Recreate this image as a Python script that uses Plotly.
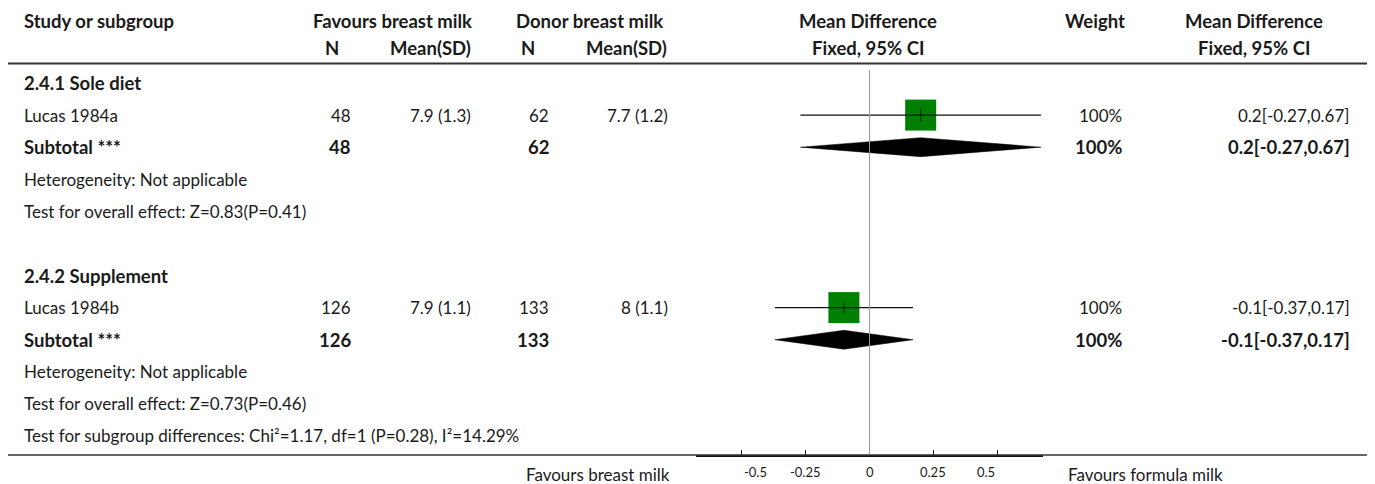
import plotly.graph_objects as go

# ---------------- data ----------------
group_titles = ["2.4.1 Sole diet", "2.4.2 Supplement"]
studies = ["Lucas 1984a", "Lucas 1984b"]
exp_n = [48, 126]
exp_mean_sd = ["7.9 (1.3)", "7.9 (1.1)"]
ctl_n = [62, 133]
ctl_mean_sd = ["7.7 (1.2)", "8 (1.1)"]
md = [0.2, -0.1]
ci_lo = [-0.27, -0.37]
ci_hi = [0.67, 0.17]
weights = ["100%", "100%"]
sub_exp_n = [48, 126]
sub_ctl_n = [62, 133]
sub_md = [0.2, -0.1]
sub_lo = [-0.27, -0.37]
sub_hi = [0.67, 0.17]
sub_weights = ["100%", "100%"]
heterogeneity = ["Heterogeneity: Not applicable", "Heterogeneity: Not applicable"]
overall = ["Test for overall effect: Z=0.83(P=0.41)", "Test for overall effect: Z=0.73(P=0.46)"]
subgroup_test = "Test for subgroup differences: Chi²=1.17, df=1 (P=0.28), I²=14.29%"
tick_vals = [-0.5, -0.25, 0, 0.25, 0.5]
tick_text = ["-0.5", "-0.25", "0", "0.25", "0.5"]
left_label = "Favours breast milk"
right_label = "Favours formula milk"

# ---------------- layout helpers ----------------
OFF = 8  # default page body margin
W, H = 1375 - OFF, 484 - OFF
FONT = "Source Sans Pro, Lato, Roboto, sans-serif"
TXT = "#1a1a1a"
FS = 17
FSB = 18.5
ROW0_PX = 83.0 - OFF
ROW_PX = 32.09
AXIS_PX = 455.0 - OFF


def px(x):
    return (x - OFF) / W


def ppy(y):
    return 1 - (y - OFF) / H


annotations = []


def add_text(text, x, row=None, anchor="left", bold=False, ypx=None, size=None):
    t = "<b>%s</b>" % text if bold else text
    if size is None:
        size = FSB if bold else FS
    a = dict(text=t, x=px(x), xref="paper", xanchor=anchor, showarrow=False,
             font=dict(family=FONT, size=size, color=TXT), yanchor="middle")
    if ypx is not None:
        a.update(y=ppy(ypx), yref="paper")
    else:
        a.update(y=row, yref="y")
    annotations.append(a)


# header
for txt, x, anc in [("Study or subgroup", 22, "left"), ("Favours breast milk", 392, "center"),
                    ("Donor breast milk", 589, "center"), ("Mean Difference", 868, "center"),
                    ("Weight", 1095, "center"), ("Mean Difference", 1254, "center")]:
    add_text(txt, x, anchor=anc, bold=True, ypx=21)
for txt, x, anc in [("N", 332, "center"), ("Mean(SD)", 430, "center"), ("N", 528, "center"),
                    ("Mean(SD)", 626, "center"), ("Fixed, 95% CI", 868, "center"),
                    ("Fixed, 95% CI", 1254, "center")]:
    add_text(txt, x, anchor=anc, bold=True, ypx=48)

fig = go.Figure()

for g in range(2):
    base = g * 6
    r_title, r_study, r_sub, r_het, r_ov = base, base + 1, base + 2, base + 3, base + 4
    add_text(group_titles[g], 22, r_title, bold=True)
    add_text(studies[g], 22, r_study)
    add_text(str(exp_n[g]), 353, r_study, "right")
    add_text(exp_mean_sd[g], 473, r_study, "right")
    add_text(str(ctl_n[g]), 551, r_study, "right")
    add_text(ctl_mean_sd[g], 670, r_study, "right")
    add_text(weights[g], 1124, r_study, "right")
    add_text("%g[%g,%g]" % (md[g], ci_lo[g], ci_hi[g]), 1352, r_study, "right")

    add_text("Subtotal ***", 22, r_sub, bold=True)
    add_text(str(sub_exp_n[g]), 353, r_sub, "right", bold=True)
    add_text(str(sub_ctl_n[g]), 551, r_sub, "right", bold=True)
    add_text(sub_weights[g], 1124, r_sub, "right", bold=True)
    add_text("%g[%g,%g]" % (sub_md[g], sub_lo[g], sub_hi[g]), 1352, r_sub, "right", bold=True)

    add_text(heterogeneity[g], 22, r_het)
    add_text(overall[g], 22, r_ov)

    # study square
    fig.add_trace(go.Scatter(x=[md[g]], y=[r_study], mode="markers",
                             marker=dict(symbol="square", size=31, color="#008000",
                                         line=dict(width=0)),
                             hoverinfo="skip", showlegend=False))
    # CI line
    fig.add_trace(go.Scatter(x=[ci_lo[g], ci_hi[g]], y=[r_study, r_study], mode="lines",
                             line=dict(color="#111111", width=1.2),
                             hoverinfo="skip", showlegend=False))
    # centre tick
    fig.add_trace(go.Scatter(x=[md[g]], y=[r_study], mode="markers",
                             marker=dict(symbol="line-ns", size=9,
                                         line=dict(color="#111111", width=1)),
                             hoverinfo="skip", showlegend=False))
    # diamond
    h = 9.5 / ROW_PX
    fig.add_trace(go.Scatter(x=[sub_lo[g], sub_md[g], sub_hi[g], sub_md[g], sub_lo[g]],
                             y=[r_sub, r_sub - h, r_sub, r_sub + h, r_sub],
                             mode="lines", fill="toself", fillcolor="#000000",
                             line=dict(color="#000000", width=0.5),
                             hoverinfo="skip", showlegend=False))

add_text(subgroup_test, 22, 11)
add_text(left_label, 672, anchor="right", ypx=474)
add_text(right_label, 1066, anchor="left", ypx=474)

# tick labels placed on the x axis scale (outer ones pulled inward, as in the source)
for i, (v, t) in enumerate(zip(tick_vals, tick_text)):
    anc = "left" if i == 0 else ("right" if i == len(tick_vals) - 1 else "center")
    annotations.append(dict(text=t, x=v, xref="x", xanchor=anc, y=ppy(471.5), yref="paper",
                            yanchor="middle", showarrow=False,
                            font=dict(family=FONT, size=13, color=TXT)))

# y range: rows -> pixels (plot area spans page px OFF..AXIS)
y_top = -ROW0_PX / ROW_PX
y_bot = (AXIS_PX - ROW0_PX) / ROW_PX

shapes = [
    dict(type="line", xref="paper", yref="paper", x0=0, x1=px(1368),
         y0=ppy(63.5), y1=ppy(63.5), line=dict(color="#333333", width=2)),
    dict(type="line", xref="paper", yref="paper", x0=0, x1=px(1368),
         y0=ppy(455), y1=ppy(455), line=dict(color="#333333", width=1.3)),
    dict(type="line", xref="x", yref="y", x0=0, x1=0,
         y0=(70 - OFF - ROW0_PX) / ROW_PX, y1=y_bot, line=dict(color="#999999", width=1)),
]

fig.update_layout(
    width=W, height=H,
    margin=dict(l=0, r=0, t=0, b=0),
    paper_bgcolor="white", plot_bgcolor="white",
    annotations=annotations, shapes=shapes,
    showlegend=False,
    xaxis=dict(domain=[px(696), px(1043)], range=[-0.678, 0.678],
               showgrid=False, zeroline=False, showline=True, linecolor="#111111",
               linewidth=2, ticks="inside", ticklen=5, tickcolor="#111111", tickwidth=1,
               tickvals=tick_vals, ticktext=tick_text, showticklabels=False,
               fixedrange=True),
    yaxis=dict(domain=[1 - AXIS_PX / H, 1], range=[y_bot, y_top], visible=False,
               fixedrange=True),
)

fig.write_html("out.html")
